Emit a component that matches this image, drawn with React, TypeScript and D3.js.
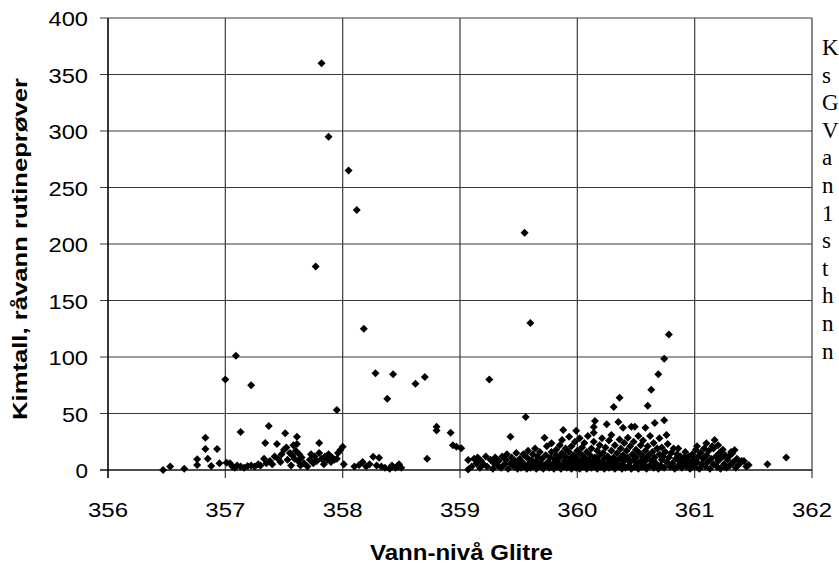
import React from "react";
import * as d3 from "d3";

// Kimtall (y) vs Vann-nivå Glitre (x)
const outliers: [number, number][] = [
  [357.0, 80], [357.09, 101], [357.22, 75], [357.77, 180], [357.82, 360], [357.88, 295],
  [357.95, 53], [358.05, 265], [358.12, 230], [358.18, 125], [358.28, 85.6], [358.38, 63],
  [358.43, 84.7], [358.62, 76.4], [358.7, 82.3], [359.25, 80], [359.55, 210], [359.6, 130],
  [359.56, 47], [360.31, 55.8], [360.36, 64], [360.6, 56.9], [360.63, 71], [360.69, 84.7],
  [360.74, 98.5], [360.78, 120],
];

const cluster356: [number, number][] = [
  [356.47, 0], [356.53, 3], [356.65, 1], [356.76, 4.5], [356.76, 9.5], [356.83, 18.6],
  [356.83, 28.6], [356.85, 10], [356.88, 3.5], [356.93, 18.6], [356.95, 6],
];

const cluster357: [number, number][] = [
  [357.01, 6.5], [357.04, 6], [357.06, 3], [357.08, 2], [357.1, 4], [357.13, 33.6], [357.13, 3],
  [357.16, 2], [357.19, 3.5], [357.22, 4], [357.25, 3], [357.28, 5], [357.3, 4], [357.33, 10],
  [357.34, 24], [357.35, 6], [357.37, 39], [357.38, 8], [357.4, 5], [357.42, 12], [357.44, 23],
  [357.45, 10], [357.47, 7], [357.48, 14], [357.5, 18], [357.51, 32.5], [357.52, 20], [357.53, 9],
  [357.55, 15], [357.56, 4], [357.57, 13], [357.58, 22], [357.59, 10], [357.6, 17], [357.61, 29.5],
  [357.61, 23], [357.62, 8], [357.63, 14], [357.64, 4], [357.65, 11], [357.67, 6], [357.7, 3],
  [357.72, 9], [357.73, 14], [357.75, 6], [357.76, 12], [357.78, 8], [357.8, 24], [357.8, 15],
  [357.82, 10], [357.84, 5], [357.85, 12], [357.87, 9], [357.88, 14], [357.9, 7], [357.91, 11],
  [357.93, 9], [357.95, 10], [357.96, 15], [357.98, 17.7], [358.0, 20.6], [358.01, 5],
];

const cluster358: [number, number][] = [
  [358.1, 3], [358.14, 4.4], [358.17, 7], [358.2, 3], [358.23, 5], [358.26, 11.8], [358.29, 4],
  [358.31, 10.9], [358.33, 3], [358.36, 2], [358.4, 1], [358.42, 4], [358.45, 2], [358.47, 3],
  [358.48, 5], [358.5, 2], [358.72, 10], [358.8, 38.3], [358.8, 35], [358.92, 33], [358.94, 22],
  [358.97, 20.6], [359.01, 19.2],
];

const cluster359: [number, number][] = [
  [359.07, 8.8], [359.07, 0.5], [359.1, 3], [359.12, 10], [359.14, 6], [359.15, 11], [359.17, 2],
  [359.18, 8], [359.2, 5], [359.22, 12], [359.23, 3], [359.26, 9], [359.28, 1], [359.29, 6],
  [359.3, 11], [359.32, 4], [359.33, 8], [359.35, 2], [359.36, 12], [359.38, 5], [359.39, 9],
  [359.4, 14], [359.41, 1], [359.43, 29.5], [359.43, 6], [359.44, 11], [359.46, 3], [359.47, 8],
  [359.48, 15], [359.49, 1], [359.5, 5], [359.51, 10], [359.52, 2], [359.53, 7], [359.54, 14],
  [359.55, 4], [359.57, 1], [359.57, 11], [359.58, 17], [359.59, 6], [359.6, 2], [359.61, 9],
  [359.62, 14], [359.63, 4], [359.64, 19], [359.65, 1], [359.65, 8], [359.66, 12], [359.67, 3],
  [359.68, 16], [359.69, 6], [359.7, 10], [359.71, 1], [359.72, 28.6], [359.72, 4], [359.73, 13],
  [359.74, 21], [359.75, 7], [359.76, 2], [359.77, 11], [359.78, 23.6], [359.78, 16], [359.79, 5],
];

const cluster360a: [number, number][] = [
  [359.8, 1], [359.81, 9], [359.82, 18], [359.82, 13], [359.83, 3], [359.84, 6], [359.85, 22],
  [359.85, 11], [359.86, 1], [359.87, 26.5], [359.87, 15], [359.88, 35.4], [359.88, 4], [359.89, 8],
  [359.9, 19], [359.9, 12], [359.91, 2], [359.92, 6], [359.93, 29.5], [359.93, 16], [359.94, 10],
  [359.95, 1], [359.95, 21], [359.96, 4], [359.97, 13], [359.97, 7], [359.98, 25], [359.99, 34.8],
  [359.99, 2], [360.0, 17], [360.0, 10], [360.01, 5], [360.02, 28], [360.02, 1], [360.03, 14],
  [360.04, 20], [360.04, 8], [360.05, 3], [360.06, 11], [360.06, 24], [360.07, 6], [360.08, 16],
  [360.08, 1], [360.09, 30], [360.1, 9], [360.1, 4], [360.11, 13], [360.12, 19], [360.12, 2],
  [360.13, 7], [360.14, 38], [360.14, 33], [360.14, 25], [360.15, 43.4], [360.15, 11], [360.16, 4],
  [360.17, 17], [360.17, 1], [360.18, 8], [360.19, 22], [360.19, 13], [360.2, 3], [360.21, 28],
  [360.21, 6], [360.22, 15], [360.23, 10], [360.23, 1], [360.24, 20], [360.25, 40.4], [360.25, 5],
  [360.26, 12], [360.27, 26], [360.27, 2], [360.28, 8], [360.29, 17], [360.29, 31], [360.3, 4],
];

const cluster360b: [number, number][] = [
  [360.31, 11], [360.32, 22], [360.32, 1], [360.33, 7], [360.34, 15], [360.35, 42.5], [360.35, 3],
  [360.36, 27], [360.36, 10], [360.37, 19], [360.38, 5], [360.38, 1], [360.39, 37.4], [360.39, 13],
  [360.4, 24], [360.4, 8], [360.41, 2], [360.42, 17], [360.43, 28.6], [360.43, 11], [360.44, 4],
  [360.45, 21], [360.45, 7], [360.46, 38.3], [360.46, 1], [360.47, 14], [360.48, 9], [360.48, 25],
  [360.49, 38.3], [360.49, 3], [360.5, 18], [360.5, 11], [360.51, 6], [360.52, 30], [360.52, 1],
  [360.53, 15], [360.54, 22], [360.54, 8], [360.55, 3], [360.56, 12], [360.56, 26], [360.57, 5],
  [360.58, 37.4], [360.58, 17], [360.59, 9], [360.59, 1], [360.6, 21], [360.61, 13], [360.62, 4],
  [360.62, 30], [360.63, 8], [360.64, 16], [360.65, 2], [360.65, 24], [360.66, 41.6], [360.66, 11],
  [360.67, 6], [360.68, 19], [360.69, 1], [360.7, 14], [360.7, 28], [360.71, 4], [360.72, 9],
  [360.72, 20], [360.73, 12], [360.74, 44], [360.74, 2], [360.75, 16], [360.76, 31], [360.76, 7],
  [360.77, 23], [360.78, 11], [360.79, 3], [360.8, 15],
];

const cluster361: [number, number][] = [
  [360.81, 6], [360.82, 19], [360.83, 1], [360.84, 10], [360.85, 14], [360.86, 19], [360.86, 4],
  [360.87, 8], [360.88, 12], [360.89, 2], [360.9, 6], [360.91, 11], [360.92, 16], [360.93, 3],
  [360.94, 8], [360.95, 12], [360.96, 1], [360.97, 5], [360.98, 14], [360.99, 9], [361.0, 3],
  [361.01, 18], [361.02, 21], [361.02, 7], [361.03, 12], [361.04, 1], [361.05, 15], [361.06, 5],
  [361.07, 10], [361.08, 19], [361.09, 3], [361.1, 23.6], [361.1, 13], [361.11, 7], [361.12, 17],
  [361.13, 1], [361.14, 10], [361.15, 21], [361.16, 19], [361.16, 5], [361.17, 26.5], [361.18, 12],
  [361.19, 3], [361.2, 22], [361.2, 8], [361.21, 15], [361.22, 1], [361.23, 11], [361.24, 18],
  [361.25, 5], [361.26, 13], [361.27, 2], [361.28, 9], [361.29, 11.8], [361.3, 4], [361.31, 16],
  [361.32, 14.7], [361.33, 7], [361.34, 17.7], [361.35, 2], [361.36, 10], [361.38, 5], [361.4, 8],
  [361.42, 8], [361.44, 3], [361.46, 4.4], [361.62, 5], [361.78, 11],
];

const xTicks = [356, 357, 358, 359, 360, 361, 362];
const yTicks = [0, 50, 100, 150, 200, 250, 300, 350, 400];
const xTitle = "Vann-nivå Glitre";
const yTitle = "Kimtall, råvann rutineprøver";
const sideLetters = ["K", "s", "G", "V", "a", "n", "1", "s", "t", "h", "n", "n"];

const allPoints = [
  ...cluster356, ...cluster357, ...cluster358, ...cluster359,
  ...cluster360a, ...cluster360b, ...cluster361, ...outliers,
];

export default function App() {
  const W = 839, H = 565;
  const x = d3.scaleLinear().domain([356, 362]).range([108, 812]);
  const y = d3.scaleLinear().domain([0, 400]).range([470, 18]);
  const r = 4;
  const diamond = (px: number, py: number) =>
    `M${px},${py - r}L${px + r},${py}L${px},${py + r}L${px - r},${py}Z`;
  const sans = "'Liberation Sans', Arial, sans-serif";
  return (
    <svg width={W} height={H} style={{ position: "absolute", left: 0, top: 0, background: "#fff" }}>
      <rect x={0} y={0} width={W} height={H} fill="#fff" />
      {yTicks.map((t) => (
        <line key={"gy" + t} x1={100} x2={x(362)} y1={y(t)} y2={y(t)} stroke="#3a3a3a" strokeWidth={1.2} />
      ))}
      {xTicks.map((t) => (
        <line key={"gx" + t} x1={x(t)} x2={x(t)} y1={y(400)} y2={478} stroke="#3a3a3a" strokeWidth={1.2} />
      ))}
      <line x1={x(356)} x2={x(356)} y1={y(400)} y2={478} stroke="#000" strokeWidth={1.2} />
      <line x1={100} x2={x(362)} y1={y(0)} y2={y(0)} stroke="#000" strokeWidth={1.2} />
      {yTicks.map((t) => (
        <text key={"ly" + t} x={88} y={y(t) + 8} textAnchor="end" fontFamily={sans} fontSize={20}
          textLength={String(t).length * 13.5 - 1} lengthAdjust="spacingAndGlyphs">{t}</text>
      ))}
      {xTicks.map((t) => (
        <text key={"lx" + t} x={x(t)} y={517} textAnchor="middle" fontFamily={sans} fontSize={20}
          textLength={40} lengthAdjust="spacingAndGlyphs">{t}</text>
      ))}
      <text x={461.5} y={560} textAnchor="middle" fontFamily={sans} fontSize={22} fontWeight="bold"
        textLength={183} lengthAdjust="spacingAndGlyphs">{xTitle}</text>
      <text transform="translate(27,249) rotate(-90)" textAnchor="middle" fontFamily={sans} fontSize={20}
        fontWeight="bold" textLength={342} lengthAdjust="spacingAndGlyphs">{yTitle}</text>
      <g fill="#000">
        {allPoints.map((p, i) => (
          <path key={i} d={diamond(x(p[0]), y(p[1]))} />
        ))}
      </g>
      {sideLetters.map((c, i) => (
        <text key={"s" + i} x={822} y={55 + i * 27.6} fontFamily="'Liberation Serif', 'Times New Roman', serif"
          fontSize={23}>{c}</text>
      ))}
    </svg>
  );
}
